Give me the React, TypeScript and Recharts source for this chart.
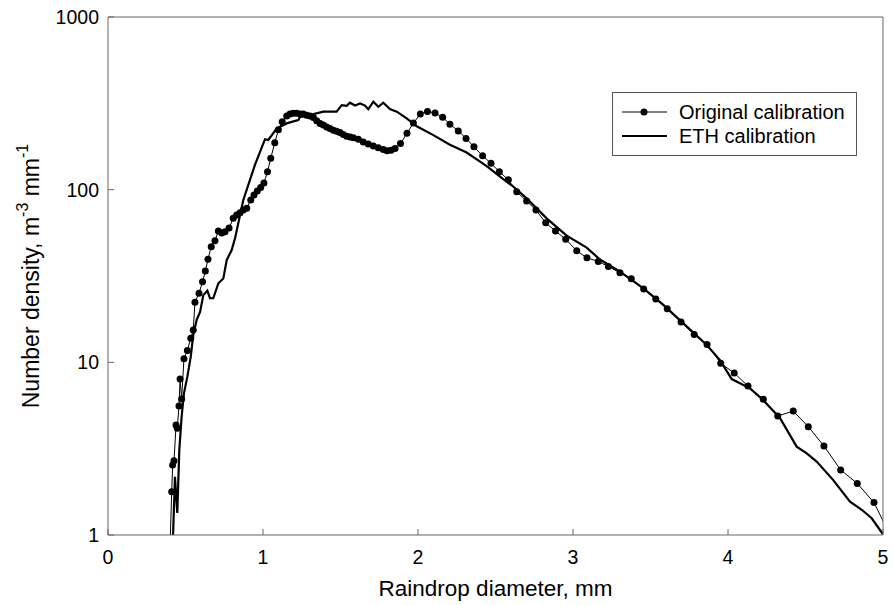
import { LineChart, Line, XAxis, YAxis, Legend } from "recharts";

// ---- data ----
const seriesNames = ["Original calibration", "ETH calibration"];

const origDiameter = [
  0.4, 0.411, 0.417, 0.426, 0.439, 0.447, 0.458, 0.465, 0.475, 0.49, 0.512, 0.534, 0.55, 0.561,
  0.587, 0.61, 0.628, 0.645, 0.666, 0.69, 0.712, 0.734, 0.755, 0.781, 0.808, 0.83, 0.852, 0.873,
  0.895, 0.921, 0.942, 0.963, 0.985, 1.006, 1.029, 1.05, 1.076, 1.099, 1.124, 1.153, 1.174, 1.195,
  1.217, 1.239, 1.26, 1.282, 1.303, 1.325, 1.346, 1.368, 1.389, 1.411, 1.432, 1.454, 1.475, 1.497,
  1.518, 1.54, 1.561, 1.583, 1.615, 1.647, 1.679, 1.712, 1.744, 1.776, 1.8, 1.826, 1.852, 1.887,
  1.929, 1.97, 2.015, 2.061, 2.11, 2.159, 2.206, 2.26, 2.31, 2.361, 2.417, 2.471, 2.525, 2.583,
  2.637, 2.701, 2.761, 2.824, 2.887, 2.953, 3.024, 3.09, 3.163, 3.228, 3.303, 3.376, 3.456, 3.534,
  3.608, 3.697, 3.782, 3.865, 3.953, 4.04, 4.129, 4.228, 4.321, 4.421, 4.518, 4.619, 4.727, 4.834,
  4.942, 5.05,
];
const origDensity = [
  0.85, 1.78, 2.54, 2.69, 4.33, 4.15, 5.58, 8.0, 6.13, 10.5, 11.7, 13.8, 15.4, 22.3,
  25.1, 29.3, 33.8, 39.5, 46.7, 50.6, 57.6, 56.1, 57.1, 59.9, 68.2, 71.3, 73.5, 76.2,
  78.0, 87.1, 93.1, 98.2, 102.8, 109.2, 127, 152, 187, 222, 247, 267, 274, 277,
  277, 274, 274, 270, 267, 262, 251, 242, 237, 231, 226, 221, 218, 214,
  209, 204, 202, 200, 196, 189, 184, 179, 175, 171, 168, 169, 173, 185,
  212, 243, 274, 284, 278, 263, 239, 219, 198, 177, 157, 142, 127, 114,
  97.2, 85.9, 76.2, 64.3, 57.6, 51.6, 44.3, 40.3, 38.4, 35.9, 33.0, 30.5, 26.6, 23.3,
  20.4, 17.1, 14.5, 12.7, 9.87, 8.67, 7.29, 6.11, 4.89, 5.22, 4.24, 3.28, 2.38, 1.99,
  1.54, 0.98,
];

const ethDiameter = [
  0.418, 0.432, 0.447, 0.46, 0.475, 0.49, 0.512, 0.534, 0.55, 0.572, 0.594, 0.615, 0.641, 0.658,
  0.679, 0.712, 0.744, 0.766, 0.798, 0.82, 0.852, 0.873, 0.948, 1.013, 1.034, 1.088, 1.153, 1.185,
  1.228, 1.239, 1.325, 1.389, 1.475, 1.508, 1.54, 1.561, 1.594, 1.626, 1.658, 1.679, 1.712, 1.744,
  1.776, 1.819, 1.863, 1.927, 1.992, 2.099, 2.206, 2.314, 2.443, 2.55, 2.605, 2.701, 2.83, 2.959,
  3.088, 3.174, 3.303, 3.454, 3.583, 3.712, 3.863, 3.948, 4.024, 4.142, 4.226, 4.335, 4.443, 4.508,
  4.572, 4.679, 4.787, 4.863, 4.927, 5.0,
];
const ethDensity = [
  0.9, 2.17, 1.34, 3.1, 4.84, 6.61, 8.26, 10.8, 14.4, 17.6, 19.6, 24.5, 26.0, 23.5,
  23.5, 28.7, 30.6, 39.1, 44.7, 52.5, 71.3, 87.1, 139, 196, 194, 226, 242, 247,
  253, 264, 274, 283, 283, 309, 306, 319, 307, 316, 307, 292, 323, 302,
  319, 293, 283, 259, 233, 207, 182, 164, 137, 115, 106, 89.1, 68.2, 54.2,
  46.2, 39.4, 33.5, 26.8, 21.5, 16.8, 12.6, 10.3, 8.0, 7.07, 6.05, 4.76, 3.25, 2.97,
  2.66, 2.08, 1.56, 1.4, 1.25, 1.01,
];

const xTicks = [0, 1, 2, 3, 4, 5];
const yTicks = [1, 10, 100, 1000];

const origData = origDiameter.map((d, i) => ({ d, n: origDensity[i] }));
const ethData = ethDiameter.map((d, i) => ({ d, n: ethDensity[i] }));

const FONT = "'Liberation Sans', Arial, sans-serif";
const AXIS = "#666";

// rotated y label with superscripts
function YLabel(props: any) {
  const vb = props.viewBox || { x: 0, y: 17, width: 108, height: 518 };
  const cx = 33;
  const cy = vb.y + vb.height / 2;
  return (
    <text
      x={cx}
      y={cy}
      transform={`rotate(-90 ${cx} ${cy})`}
      textAnchor="middle"
      dominantBaseline="middle"
      fontSize={23}
      fontFamily={FONT}
      fill="#000"
    >
      Number density, m
      <tspan dy={-9} fontSize={16}>-3</tspan>
      <tspan dy={9}> mm</tspan>
      <tspan dy={-9} fontSize={16}>-1</tspan>
    </text>
  );
}

function XLabel(props: any) {
  const vb = props.viewBox || { x: 108, y: 535, width: 775, height: 70 };
  return (
    <text
      x={vb.x + vb.width / 2}
      y={vb.y + 61}
      textAnchor="middle"
      fontSize={22.5}
      fontFamily={FONT}
      fill="#000"
    >
      Raindrop diameter, mm
    </text>
  );
}

function LegendBox() {
  return (
    <div
      style={{
        width: 245,
        height: 64,
        boxSizing: "border-box",
        border: "1px solid #555",
        background: "#fff",
        fontFamily: FONT,
        fontSize: 20,
        color: "#000",
        position: "relative",
      }}
    >
      {seriesNames.map((name, i) => (
        <div
          key={name}
          style={{ position: "absolute", left: 0, top: i === 0 ? 7 : 31, height: 24, display: "flex", alignItems: "center" }}
        >
          <svg width={66} height={24} style={{ display: "block" }}>
            <line x1={9} x2={54} y1={12} y2={12} stroke="#000" strokeWidth={i === 0 ? 1 : 2.2} />
            {i === 0 && <circle cx={31} cy={12} r={3.5} fill="#000" />}
          </svg>
          <span style={{ whiteSpace: "nowrap" }}>{name}</span>
        </div>
      ))}
    </div>
  );
}

export default function App() {
  return (
    <div style={{ width: 894, height: 605, background: "#fff" }}>
      <style>{`body{margin:0}`}</style>
      <LineChart
        width={894}
        height={605}
        margin={{ top: 16, right: 10, bottom: 0, left: 0 }}
        style={{ fontFamily: FONT }}
      >
        <XAxis
          type="number"
          dataKey="d"
          domain={[0, 5]}
          ticks={xTicks}
          allowDataOverflow
          height={70}
          stroke={AXIS}
          tickSize={-6}
          tickMargin={21}
          tick={{ fill: "#000", fontSize: 19.5 }}
          label={<XLabel />}
        />
        <XAxis
          xAxisId="top"
          orientation="top"
          type="number"
          dataKey="d"
          domain={[0, 5]}
          ticks={xTicks}
          height={1}
          stroke={AXIS}
          tickSize={-6}
          tick={false}
        />
        <YAxis
          type="number"
          dataKey="n"
          scale="log"
          domain={[1, 1000]}
          ticks={yTicks}
          allowDataOverflow
          width={108}
          stroke={AXIS}
          tickSize={-6}
          tickMargin={15}
          tick={{ fill: "#000", fontSize: 19.5 }}
          label={<YLabel />}
        />
        <YAxis
          yAxisId="right"
          orientation="right"
          type="number"
          scale="log"
          domain={[1, 1000]}
          ticks={yTicks}
          width={1}
          stroke={AXIS}
          tickSize={-6}
          tick={false}
        />
        <Legend
          layout="vertical"
          align="center"
          verticalAlign="middle"
          content={() => <LegendBox />}
          wrapperStyle={{ left: 612, top: 92, width: 245, height: 64 }}
        />
        <Line
          data={ethData}
          dataKey="n"
          name={seriesNames[1]}
          type="linear"
          stroke="#000"
          strokeWidth={2.2}
          dot={false}
          isAnimationActive={false}
        />
        <Line
          data={origData}
          dataKey="n"
          name={seriesNames[0]}
          type="linear"
          stroke="#000"
          strokeWidth={1}
          dot={{ r: 3.5, fill: "#000", stroke: "#000", strokeWidth: 0 }}
          isAnimationActive={false}
        />
      </LineChart>
    </div>
  );
}
